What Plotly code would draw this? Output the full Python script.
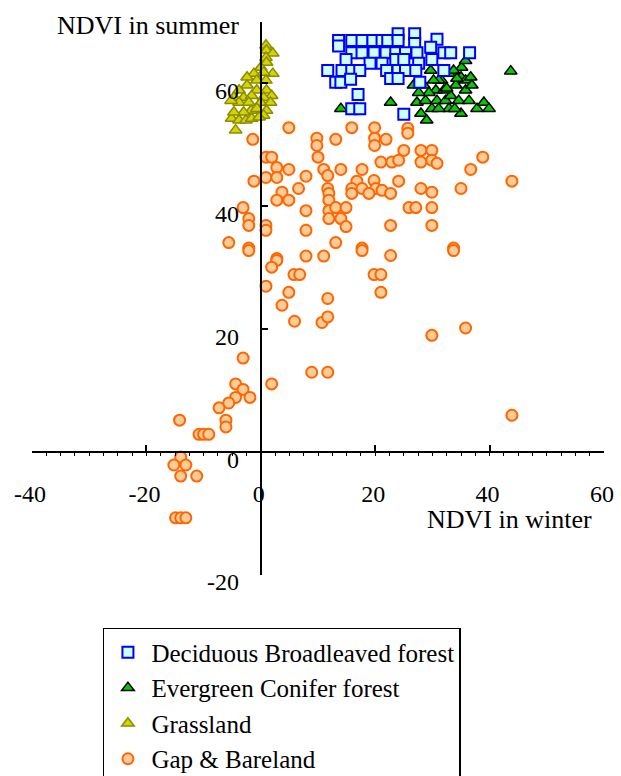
import plotly.graph_objects as go

# ---------------- data ----------------
decid_x = [13.6, 13.6, 15.9, 17.7, 19.6, 21.2, 22.2, 24.0, 24.0, 26.9, 26.9, 30.8,
           15.9, 17.7, 19.8, 21.9, 23.6, 25.3, 27.3, 29.7, 32.0, 33.2, 36.5,
           14.9, 19.1, 21.2, 23.6, 25.0, 27.6, 29.9,
           11.7, 14.2, 15.9, 17.3, 22.0, 24.0, 25.3, 27.1, 32.0,
           13.1, 14.0, 15.7, 22.7, 24.0, 27.8, 17.0, 15.9, 17.3, 25.0]
decid_y = [67.0, 66.1, 67.0, 67.0, 67.0, 67.0, 67.0, 68.1, 67.0, 68.1, 66.5, 67.2,
           65.0, 65.0, 65.0, 65.0, 65.0, 65.0, 65.0, 65.9, 65.0, 65.0, 65.0,
           63.9, 63.3, 63.3, 63.9, 63.9, 63.3, 63.9,
           62.1, 62.1, 62.1, 62.1, 62.1, 62.1, 62.1, 62.1, 62.1,
           60.2, 60.2, 60.7, 60.8, 60.8, 60.2, 58.2, 55.9, 55.9, 55.0]

everg_x = [14.0, 22.7, 26.7, 27.3, 28.0, 29.0, 28.8, 29.9, 29.7, 30.6, 30.8, 31.6,
           32.3, 32.9, 33.2, 34.1, 34.6, 35.0, 35.0, 35.1, 35.8, 35.8, 35.8, 36.7,
           36.9, 37.8, 39.0, 39.9, 43.7, 32.9, 31.1, 28.5, 33.7, 32.0, 31.1, 36.4,
           29.4, 33.9, 27.6, 30.2, 34.3, 32.5]
everg_y = [55.9, 56.9, 59.7, 56.9, 55.1, 54.0, 57.2, 55.9, 62.1, 58.9, 57.2, 60.5,
           57.2, 55.9, 58.0, 59.7, 57.2, 61.0, 55.1, 62.6, 63.7, 60.5, 58.9, 61.0,
           59.7, 55.9, 56.9, 55.9, 62.0, 61.6, 60.5, 59.7, 62.1, 58.9, 55.9, 57.2,
           58.5, 55.9, 58.5, 60.5, 60.8, 59.2]

grass_x = [0.9, 1.0, 2.1, 0.9, 1.0, 0.0, 2.1, 0.5, -1.2, -2.4, -0.7, 0.9, -2.4,
           -3.8, -0.7, 1.0, 1.9, -4.7, -3.0, -1.6, 0.5, -3.8, -2.1, 0.0, 1.7,
           -5.2, -1.7, -0.7, 1.0, -3.0, 0.5, -5.1, -3.8, -2.6, -1.6, -0.3, -4.7, -4.4]
grass_y = [66.2, 65.4, 64.9, 64.2, 63.4, 62.6, 61.6, 61.8, 61.6, 61.0, 60.5, 60.5, 59.7,
           58.9, 58.9, 58.9, 58.0, 57.7, 57.7, 58.0, 57.7, 56.9, 56.9, 56.9, 56.9,
           57.2, 55.6, 55.9, 55.6, 55.3, 54.8, 54.3, 54.0, 54.0, 54.3, 54.5, 55.3, 52.4]

gap_x = [4.9, 15.9, 19.9, 25.7, 25.7, -1.4, 9.8, 13.1, 19.9, 21.9, 9.8, 19.9,
         25.0, 28.0, 29.9, 38.8, 0.9, 1.9, 10.0, 21.0, 22.9, 24.1, 28.0, 29.9,
         30.8, 2.8, 4.9, 11.0, 14.0, 17.7, 36.7, 0.9, 2.8, 7.9, 11.7, -1.2,
         16.8, 19.8, 24.1, 43.9, 6.6, 11.7, 15.9, 17.7, 20.1, 21.2, 28.0, 35.0,
         3.7, 11.9, 15.9, 18.9, 22.7, 29.9, 2.8, 4.9, 11.9, -3.1, 7.9, 11.9,
         13.1, 14.9, 25.9, 27.1, 29.9, -2.1, 11.9, 14.0, 0.9, 0.9, -2.1, 14.9,
         22.7, 29.9, 7.9, 13.1, -5.6, -2.1, 17.7, 33.7, 2.8, 7.9, 11.0, 22.7,
         -2.1, 2.8, 1.9, 17.7, 33.7, 5.8, 6.8, 19.8, 21.0, 0.9, 4.9, 11.7,
         21.0, 3.7, 5.9, 10.7, 11.7, 29.9, 35.8, -3.1, 8.9, 11.7, 1.9, -4.4,
         -3.1, -4.4, -1.9, -5.6, 43.9, -7.3, -14.2, -6.1, -6.1, -10.8, -10.0, -9.1,
         -14.0, -15.2, -13.1, -14.0, -11.2, -14.9, -14.0, -13.1]
gap_y = [52.8, 52.8, 52.8, 52.7, 51.9, 50.9, 51.1, 50.9, 51.1, 50.9, 49.9, 49.9,
         49.1, 49.1, 49.1, 48.0, 48.0, 48.0, 48.0, 47.2, 47.2, 47.5, 47.2, 47.5,
         47.0, 46.3, 46.0, 46.0, 46.0, 46.0, 46.0, 44.7, 44.7, 44.9, 45.0, 44.1,
         44.1, 44.2, 44.1, 44.1, 42.9, 42.9, 42.9, 42.9, 42.9, 42.6, 42.9, 42.9,
         42.3, 42.1, 42.1, 42.1, 42.1, 42.3, 41.0, 41.0, 41.0, 39.8, 39.3, 39.3,
         39.8, 39.8, 39.8, 39.8, 39.8, 38.0, 38.0, 38.0, 36.9, 36.1, 36.9, 36.7,
         36.9, 36.9, 36.1, 34.1, 34.1, 33.2, 33.2, 33.2, 31.5, 31.9, 31.9, 32.0,
         32.8, 31.2, 30.1, 32.8, 32.8, 28.9, 28.9, 28.9, 28.9, 27.0, 26.0, 25.0,
         26.0, 23.9, 21.3, 21.1, 22.0, 19.0, 20.2, 15.3, 13.0, 13.0, 11.1, 11.1,
         10.2, 8.9, 8.9, 8.0, 6.0, 7.2, 5.2, 5.2, 4.1, 2.9, 2.9, 2.9,
         -0.8, -2.1, -2.1, -3.9, -3.9, -10.7, -10.7, -10.7]

x_ticks = [-40, -20, 0, 20, 40, 60]
x_ticklabels = ["-40", "-20", "0", "20", "40", "60"]
y_ticks = [-20, 0, 20, 40, 60]
y_ticklabels = ["-20", "0", "20", "40", "60"]
x_title = "NDVI in winter"
y_title = "NDVI in summer"

FONT = "Liberation Serif, Times New Roman, serif"

fig = go.Figure()
fig.add_trace(go.Scatter(
    x=gap_x, y=gap_y, mode="markers", name="Gap &amp; Bareland",
    marker=dict(symbol="circle", size=11, color="#FFCC99",
                line=dict(color="#FF6600", width=2))))
fig.add_trace(go.Scatter(
    x=grass_x, y=grass_y, mode="markers", name="Grassland",
    marker=dict(symbol="triangle-up", size=11, color="#D4D400",
                line=dict(color="#8C8C00", width=1.5))))
fig.add_trace(go.Scatter(
    x=everg_x, y=everg_y, mode="markers", name="Evergreen Conifer forest",
    marker=dict(symbol="triangle-up", size=11, color="#00CC00",
                line=dict(color="#000000", width=1.5))))
fig.add_trace(go.Scatter(
    x=decid_x, y=decid_y, mode="markers", name="Deciduous Broadleaved forest",
    marker=dict(symbol="square", size=11, color="#CCFFFF",
                line=dict(color="#0000FF", width=2))))

fig.update_layout(
    width=621, height=776,
    margin=dict(l=32, r=17, t=21.5, b=201, pad=0, autoexpand=False),
    paper_bgcolor="white", plot_bgcolor="white",
    font=dict(family=FONT, size=24, color="black"),
    showlegend=True,
    legend=dict(
        x=0.124, y=-0.0958, xanchor="left", yanchor="top",
        bordercolor="black", borderwidth=1.5, bgcolor="white",
        font=dict(family=FONT, size=25, color="black"),
        traceorder="reversed", itemsizing="trace", itemwidth=37,
    ),
    xaxis=dict(
        range=[-40, 60], tickvals=x_ticks, ticktext=x_ticklabels,
        showgrid=False, zeroline=False,
        showline=True, linecolor="black", linewidth=2,
        anchor="free", position=20 / 90,
        ticks="inside", ticklen=6, tickwidth=2, tickcolor="black",
        minor=dict(dtick=2.5, ticks="outside", ticklen=3, tickwidth=1, tickcolor="black"),
        ticklabelstandoff=20, ticklabelshift=-2,
        tickfont=dict(family=FONT, size=24),
    ),
    yaxis=dict(
        range=[-20, 70], tickvals=y_ticks, ticktext=y_ticklabels,
        showgrid=False, zeroline=False,
        showline=True, linecolor="black", linewidth=2,
        anchor="free", position=0.4,
        ticks="inside", ticklen=6, tickwidth=2, tickcolor="black",
        ticklabelstandoff=16, ticklabelshift=7,
        tickfont=dict(family=FONT, size=24),
    ),
    annotations=[
        dict(text=y_title, x=-3.5, y=69.4, xref="x", yref="y",
             xanchor="right", yanchor="middle", showarrow=False,
             font=dict(family=FONT, size=26, color="black")),
        dict(text=x_title, x=58.2, y=-11.0, xref="x", yref="y",
             xanchor="right", yanchor="middle", showarrow=False,
             font=dict(family=FONT, size=26, color="black")),
    ],
)

fig.write_html("out.html")
